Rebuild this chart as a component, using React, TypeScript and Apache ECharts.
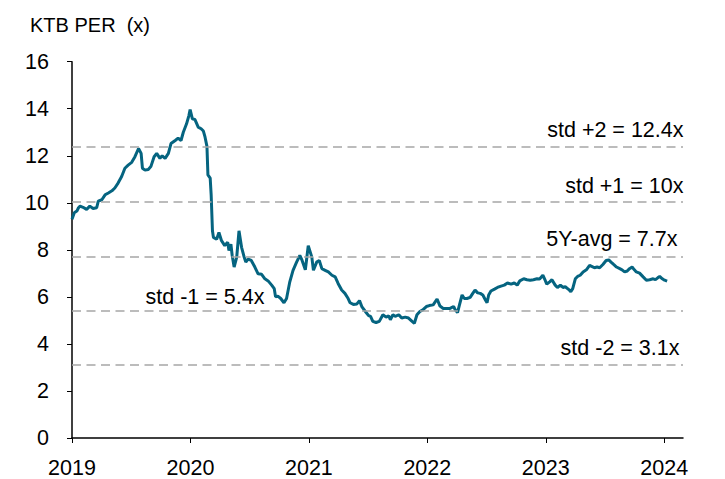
import React, { useEffect, useRef } from "react";
import * as echarts from "echarts";

const dates = [
  "2019-01-01","2019-01-08","2019-01-16","2019-01-21","2019-01-26","2019-02-04","2019-02-15","2019-02-25","2019-03-07","2019-03-18",
  "2019-03-23","2019-04-03","2019-04-13","2019-04-23","2019-05-04","2019-05-13","2019-05-23","2019-06-03","2019-06-13","2019-06-23",
  "2019-07-04","2019-07-14","2019-07-25","2019-08-02","2019-08-06","2019-08-14","2019-08-24","2019-09-01","2019-09-11","2019-09-19",
  "2019-09-29","2019-10-06","2019-10-15","2019-10-25","2019-11-02","2019-11-15","2019-11-24","2019-12-03","2019-12-10","2019-12-20",
  "2019-12-27","2019-12-31","2020-01-07","2020-01-15","2020-01-25","2020-02-03","2020-02-10","2020-02-15","2020-02-21","2020-02-24",
  "2020-03-02","2020-03-05","2020-03-09","2020-03-12","2020-03-22","2020-03-29","2020-04-06","2020-04-16","2020-04-25","2020-04-29",
  "2020-05-05","2020-05-09","2020-05-15","2020-05-23","2020-05-30","2020-06-07","2020-06-15","2020-06-20","2020-06-27","2020-07-07",
  "2020-07-18","2020-07-28","2020-08-08","2020-08-18","2020-08-28","2020-09-08","2020-09-16","2020-09-20","2020-09-27","2020-10-06",
  "2020-10-16","2020-10-24","2020-11-03","2020-11-13","2020-11-24","2020-12-04","2020-12-11","2020-12-21",
  "2020-12-25","2020-12-30","2021-01-10","2021-01-15","2021-01-25","2021-02-02","2021-02-10","2021-02-20","2021-03-02","2021-03-13",
  "2021-03-23","2021-04-01","2021-04-12","2021-04-22","2021-05-02","2021-05-08","2021-05-18","2021-05-29","2021-06-06","2021-06-13",
  "2021-06-24","2021-07-04","2021-07-10","2021-07-17","2021-07-27","2021-08-06","2021-08-17","2021-08-27","2021-09-04","2021-09-09",
  "2021-09-17","2021-09-24","2021-10-05","2021-10-14","2021-10-25","2021-11-04","2021-11-15","2021-11-22","2021-11-30","2021-12-09",
  "2021-12-18","2021-12-29","2022-01-07","2022-01-19","2022-01-31","2022-02-09","2022-02-19","2022-03-02","2022-03-12","2022-03-23",
  "2022-03-28","2022-04-04","2022-04-10","2022-04-18","2022-04-25","2022-05-03","2022-05-13","2022-05-21","2022-05-28","2022-06-05",
  "2022-06-13","2022-06-21","2022-06-29","2022-07-04","2022-07-09","2022-07-16","2022-07-27","2022-08-05","2022-08-16","2022-08-26",
  "2022-09-05","2022-09-16","2022-09-26","2022-10-05","2022-10-13","2022-10-25","2022-11-04","2022-11-14","2022-11-24","2022-12-05",
  "2022-12-13",
  "2022-12-23","2022-12-30","2023-01-04","2023-01-13","2023-01-20","2023-01-30","2023-02-06","2023-02-15","2023-02-23","2023-03-02",
  "2023-03-13","2023-03-19","2023-03-25","2023-04-02","2023-04-09","2023-04-17","2023-04-26","2023-05-06","2023-05-16","2023-05-24",
  "2023-05-31","2023-06-08","2023-06-16","2023-06-26","2023-07-06","2023-07-14","2023-07-21","2023-07-29","2023-08-07","2023-08-17",
  "2023-08-24","2023-09-01","2023-09-09","2023-09-16","2023-09-24","2023-10-01","2023-10-07","2023-10-17","2023-10-28","2023-11-07",
  "2023-11-17","2023-11-28","2023-12-05",
  "2023-12-12","2023-12-18","2023-12-26","2024-01-02","2024-01-10",
];

const perValues = [
  9.3, 9.58, 9.65, 9.79, 9.86, 9.81, 9.72, 9.86, 9.76, 9.79,
  10.07, 10.13, 10.34, 10.42, 10.51, 10.63, 10.84, 11.12, 11.47, 11.6,
  11.72, 11.96, 12.31, 12.1, 11.47, 11.39, 11.42, 11.54, 11.96, 12.1,
  11.89, 12.0, 11.89, 12.1, 12.52, 12.65, 12.75, 12.65, 13.0, 13.36,
  13.7, 13.96, 13.57, 13.54, 13.22, 13.15, 13.05, 12.8, 12.4, 11.19,
  11.05, 10.34, 8.81, 8.53, 8.45, 8.74, 8.39, 8.18, 8.32, 7.97,
  8.24, 7.76, 7.27, 7.69, 8.81, 8.11, 7.69, 7.48, 7.61, 7.55,
  7.27, 6.98, 6.96, 6.77, 6.68, 6.5, 6.35, 6.0, 6.03, 5.93,
  5.75, 5.93, 6.64, 7.13, 7.48, 7.76, 7.55, 7.15,
  7.6, 8.18, 7.69, 7.13, 7.48, 7.55, 7.2, 7.13, 7.06, 6.92,
  6.85, 6.57, 6.29, 6.15, 5.93, 5.75, 5.68, 5.7, 5.84, 5.59,
  5.38, 5.2, 5.17, 4.96, 4.91, 4.96, 5.24, 5.14, 5.2, 5.03,
  5.24, 5.17, 5.24, 5.1, 5.14, 5.1, 4.96, 4.88, 5.24, 5.38,
  5.45, 5.59, 5.63, 5.66, 5.91, 5.61, 5.51, 5.51, 5.51, 5.59,
  5.45, 5.33, 5.66, 6.08, 5.93, 5.93, 5.98, 6.15, 6.29, 6.17,
  6.15, 6.08, 5.87, 5.75, 6.08, 6.25, 6.33, 6.4, 6.46, 6.5,
  6.59, 6.54, 6.59, 6.5, 6.68, 6.77, 6.73, 6.71, 6.73, 6.77,
  6.76,
  6.92, 6.71, 6.54, 6.64, 6.73, 6.5, 6.4, 6.5, 6.4, 6.43,
  6.31, 6.22, 6.35, 6.77, 6.87, 6.92, 7.06, 7.15, 7.34, 7.29,
  7.24, 7.27, 7.24, 7.38, 7.55, 7.57, 7.48, 7.38, 7.27, 7.2,
  7.15, 7.06, 7.1, 7.2, 7.27, 7.15, 7.06, 7.01, 6.85, 6.71,
  6.73, 6.77, 6.73,
  6.81, 6.87, 6.77, 6.71, 6.67,
];

const bandNames = ["std +2 = 12.4x", "std +1 = 10x", "5Y-avg = 7.7x", "std -1 = 5.4x", "std -2 = 3.1x"];
const bandValues = [12.4, 10.04, 7.7, 5.42, 3.1];
const yearTicks = [2019, 2020, 2021, 2022, 2023, 2024];
const axisStartDate = "2019-01-01";
const axisEndDate = "2024-02-28";
const titleText = "KTB PER  (x)";

// date string -> fractional year (time position on the x axis)
function toYear(d: string): number {
  const [y, m, day] = d.split("-").map(Number);
  const start = Date.UTC(y, 0, 1);
  const next = Date.UTC(y + 1, 0, 1);
  return y + (Date.UTC(y, m - 1, day) - start) / (next - start);
}

export default function App() {
  const ref = useRef<HTMLDivElement>(null);
  useEffect(() => {
    const chart = echarts.init(ref.current!, null, { renderer: "svg" });
    const font = "'Liberation Sans', Arial, sans-serif";
    const fs = 21.5;
    chart.setOption({
      animation: false,
      textStyle: { fontFamily: font },
      title: {
        text: titleText,
        left: 25,
        top: 10,
        textStyle: { fontSize: 20, fontWeight: "normal", color: "#000", fontFamily: font },
      },
      grid: { left: 72, right: 42, top: 61.7, bottom: 35.5 },
      xAxis: {
        type: "value",
        min: toYear(axisStartDate),
        max: toYear(axisEndDate),
        axisLine: { show: true, lineStyle: { color: "#000", width: 1.5 } },
        axisTick: { show: true, customValues: yearTicks, length: 5, lineStyle: { color: "#000", width: 1 } },
        axisLabel: {
          customValues: yearTicks,
          formatter: (v: number) => String(Math.round(v)),
          fontSize: fs,
          color: "#000",
          margin: 19,
          fontFamily: font,
        },
        splitLine: { show: false },
      },
      yAxis: {
        type: "value",
        min: 0,
        max: 16,
        interval: 2,
        axisLine: { show: true, lineStyle: { color: "#000", width: 1.5 } },
        axisTick: { show: true, length: 5, lineStyle: { color: "#000", width: 1 } },
        axisLabel: { fontSize: fs, color: "#000", margin: 23, fontFamily: font },
        splitLine: { show: false },
      },
      series: [
        {
          type: "line",
          data: dates.map((d, i) => [toYear(d), perValues[i]]),
          showSymbol: false,
          symbol: "none",
          lineStyle: { color: "#056480", width: 3 },
          itemStyle: { color: "#056480" },
          emphasis: { disabled: true },
          markLine: {
            silent: true,
            symbol: ["none", "none"],
            lineStyle: { type: [9, 5.5], color: "#a6a6a6", width: 1.5 },
            emphasis: { disabled: true },
            label: { show: false },
            data: bandValues.map((v) => ({ yAxis: v })),
          },
        },
      ],
    });
    // annotation texts placed above each band line, positioned through the y scale
    const labelGap = [16, 16, 18, 14, 17];
    const labelX = [683.5, 683.5, 677.5, 145.5, 679.5];
    const labelAlign = ["right", "right", "right", "left", "right"];
    chart.setOption({
      graphic: bandValues.map((v, i) => ({
        type: "text",
        silent: true,
        style: {
          text: bandNames[i],
          x: labelX[i],
          y: (chart.convertToPixel({ yAxisIndex: 0 }, v) as number) - labelGap[i],
          textAlign: labelAlign[i],
          textVerticalAlign: "middle",
          font: `${fs}px 'Liberation Sans', Arial, sans-serif`,
          fill: "#000",
        },
      })),
    });
    return () => chart.dispose();
  }, []);
  return (
    <div
      ref={ref}
      style={{ position: "absolute", left: 0, top: 0, width: 725, height: 479 }}
    />
  );
}
